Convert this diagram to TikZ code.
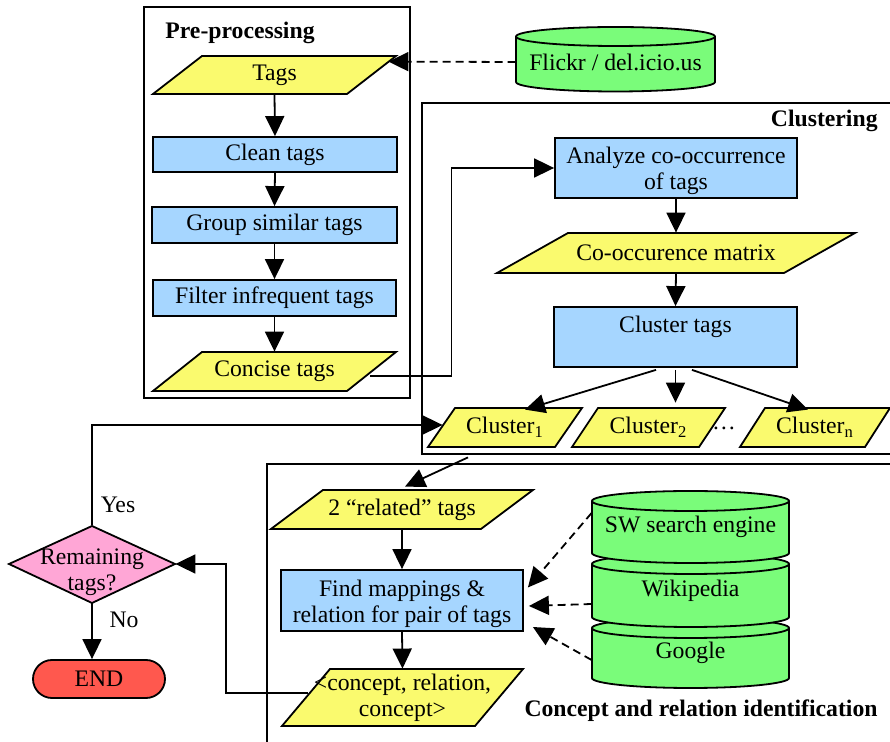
\documentclass[tikz,border=0pt]{standalone}
\usepackage{fontspec}
\setmainfont{Liberation Serif}
\usetikzlibrary{arrows.meta,calc}
\definecolor{cyellow}{RGB}{250,250,110}
\definecolor{cblue}{RGB}{166,214,255}
\definecolor{cgreen}{RGB}{122,252,122}
\definecolor{cpink}{RGB}{255,166,214}
\definecolor{cred}{RGB}{255,88,78}
\tikzset{
  txt/.style={font=\fontsize{11.85}{13}\selectfont, inner sep=0pt, align=center},
  ttl/.style={font=\fontsize{11.85}{13}\selectfont\bfseries, inner sep=0pt},
  bluebox/.style={txt, draw, fill=cblue, line width=0.9pt},
  parashape/.style={draw, fill=cyellow, line width=0.9pt},
  cylshape/.style={draw, fill=cgreen, line width=0.9pt},
  frame/.style={draw, line width=0.9pt},
  arr/.style={-{Triangle[length=10pt,width=9.5pt]}, line width=0.9pt},
  dasharr/.style={-{Triangle[length=10pt,width=9.5pt]}, line width=0.9pt, dash pattern=on 4pt off 2.5pt},
}
% #1 name, #2 cx, #3 cy, #4 w, #5 h, #6 slant offset, #7 text  (pixel units, y downward)
\newcommand\paral[7]{%
  \filldraw[parashape] ({#2-#4/2},{-#3-#5/2}) -- ({#2-#4/2+#6},{-#3+#5/2}) -- ({#2+#4/2},{-#3+#5/2}) -- ({#2+#4/2-#6},{-#3-#5/2}) -- cycle;
  \node[txt, minimum width={#4*0.5pt}, minimum height={#5*0.5pt}] (#1) at (#2,-#3) {#7};
}
% #1 name, #2 cx, #3 y top centre, #4 y bottom centre, #5 rx, #6 ry, #7 text y, #8 text
\newcommand\cylin[8]{%
  \filldraw[cylshape] ({#2-#5},-#3) -- ({#2-#5},-#4) arc[start angle=180,end angle=360,x radius={#5*0.5pt},y radius={#6*0.5pt}] -- ({#2+#5},-#3) arc[start angle=0,end angle=180,x radius={#5*0.5pt},y radius={#6*0.5pt}] -- cycle;
  \draw[line width=0.9pt] ({#2-#5},-#3) arc[start angle=180,end angle=360,x radius={#5*0.5pt},y radius={#6*0.5pt}];
  \node[txt, minimum width={#5*1pt}] (#1) at (#2,-#7) {#8};
}
\begin{document}
\begin{tikzpicture}[x=0.5pt,y=0.5pt]
\useasboundingbox (0,0) rectangle (890,-742);
\clip (0,0) rectangle (890,-742);

% frames
\draw[frame] (144,-7) rectangle (410,-398);
\draw[frame] (422,-103) rectangle (900,-454);
\draw[frame] (267,-760) -- (267,-464) -- (900,-464);
\node[ttl, anchor=west] (pretitle) at (165,-33) {Pre-processing};
\node[ttl, anchor=east] (clutitle) at (878,-121) {Clustering};
\node[ttl, anchor=east] (contitle) at (878,-711) {Concept and relation identification};

% pre-processing
\paral{tags}{274.5}{75}{243}{38}{49}{Tags}
\node[bluebox, minimum width=122pt, minimum height=17.5pt] (clean) at (275,-154.5) {Clean tags};
\node[bluebox, minimum width=122.5pt, minimum height=18pt] (group) at (274.5,-225) {Group similar tags};
\node[bluebox, minimum width=121.5pt, minimum height=18pt] (filter) at (274.5,-298) {Filter infrequent tags};
\paral{concise}{274.5}{371.5}{243}{39}{49}{Concise tags}

% source
\cylin{flickr}{615.5}{36.5}{82}{99.5}{9.5}{62}{Flickr / del.icio.us}

% clustering
\node[bluebox, minimum width=121pt, minimum height=30pt] (analyze) at (676,-168) {};
\node[txt] (analyzetxt) at (676,-171) {Analyze co-occurrence\\of tags};
\paral{cooc}{676}{253}{358}{40}{71}{Co-occurence matrix}
\node[bluebox, minimum width=121.5pt, minimum height=30pt] (cluster) at (675.5,-337) {Cluster tags\\\mbox{}};
\paral{c1}{505}{427.5}{154}{39}{27}{Cluster\textsubscript{1}}
\paral{c2}{648.5}{427.5}{153}{39}{26}{Cluster\textsubscript{2}}
\paral{cn}{815}{427.5}{150}{39}{25}{Cluster\textsubscript{n}}
\node[txt] (dots) at (724,-428) {\ldots};

% concept identification
\paral{related}{402}{509.5}{262}{39}{52}{2 “related” tags}
\node[bluebox, minimum width=121pt, minimum height=30.5pt] (find) at (402,-600.5) {};
\node[txt] (findtxt) at (402,-603.5) {Find mappings \&\\relation for pair of tags};
\paral{conc}{402.5}{697.5}{241}{57}{48}{<concept, relation,\\concept>}
\cylin{google}{690.5}{628}{678}{98.5}{10}{653}{Google}
\cylin{wiki}{690.5}{564}{617}{98.5}{10}{591}{Wikipedia}
\cylin{sw}{690.5}{501}{553}{98.5}{10}{527}{SW search engine}

% decision
\filldraw[fill=cpink, line width=0.9pt] (9,-564) -- (92,-526) -- (175,-564) -- (92,-603) -- cycle;
\node[txt, minimum width=83pt, minimum height=38.5pt] (dia) at (92,-564) {};
\node[txt] (diatext) at (92,-572.5) {Remaining\\tags?};
\node[txt, draw, fill=cred, line width=0.9pt, rounded corners=9.5pt, minimum width=66pt, minimum height=19pt] (end) at (99,-679) {END};
\node[txt] (yes) at (118,-505) {Yes};
\node[txt] (no) at (124,-620) {No};

% connectors
\coordinate (tagsin) at ([xshift=-4pt,yshift=-3pt]tags.north east);
\draw[dasharr] (flickr.west) -- (tagsin);
\draw[arr] (tags.south) -- (clean.north);
\draw[arr] (clean.south) -- (group.north);
\draw[arr] (group.south) -- (filter.north);
\draw[arr] (filter.south) -- (concise.north);
\draw[arr] ([shift={(-13pt,-2.25pt)}]concise.east) -- ++(81,0) |- (analyze.west);
\draw[arr] (analyze.south) -- (cooc.north);
\draw[arr] (cooc.south) -- (cluster.north);
\draw[arr] ([shift={(-9.75pt,-1pt)}]cluster.south) -- ([shift={(10pt,-1pt)}]c1.north);
\draw[arr] ([yshift=-1pt]cluster.south) -- ([yshift=2.5pt]cluster.south |- c2.north);
\draw[arr] ([shift={(8.25pt,-1pt)}]cluster.south) -- ([shift={(-3.5pt,-1pt)}]cn.north);
\draw[arr] (dia.north) |- ([shift={(7.5pt,1.25pt)}]c1.west);
\draw[arr] ([shift={(-18.5pt,-5pt)}]c1.south) -- ([shift={(1.5pt,1.5pt)}]related.north);
\draw[arr] (related.south) -- (find.north);
\draw[arr] (find.south) -- (conc.north);
\draw[arr] ([shift={(13pt,2.25pt)}]conc.west) -- ++(-82,0) |- (dia.east);
\draw[arr] (dia.south) -- (dia.south |- end.north);
\draw[dasharr] ([yshift=7pt]sw.west) -- ([shift={(2pt,6.5pt)}]find.east);
\draw[dasharr] ([yshift=-6.5pt]wiki.west) -- ([shift={(2.5pt,-2.75pt)}]find.east);
\draw[dasharr] ([yshift=-3.5pt]google.west) -- ([shift={(4.5pt,-13.25pt)}]find.east);
\end{tikzpicture}
\end{document}
